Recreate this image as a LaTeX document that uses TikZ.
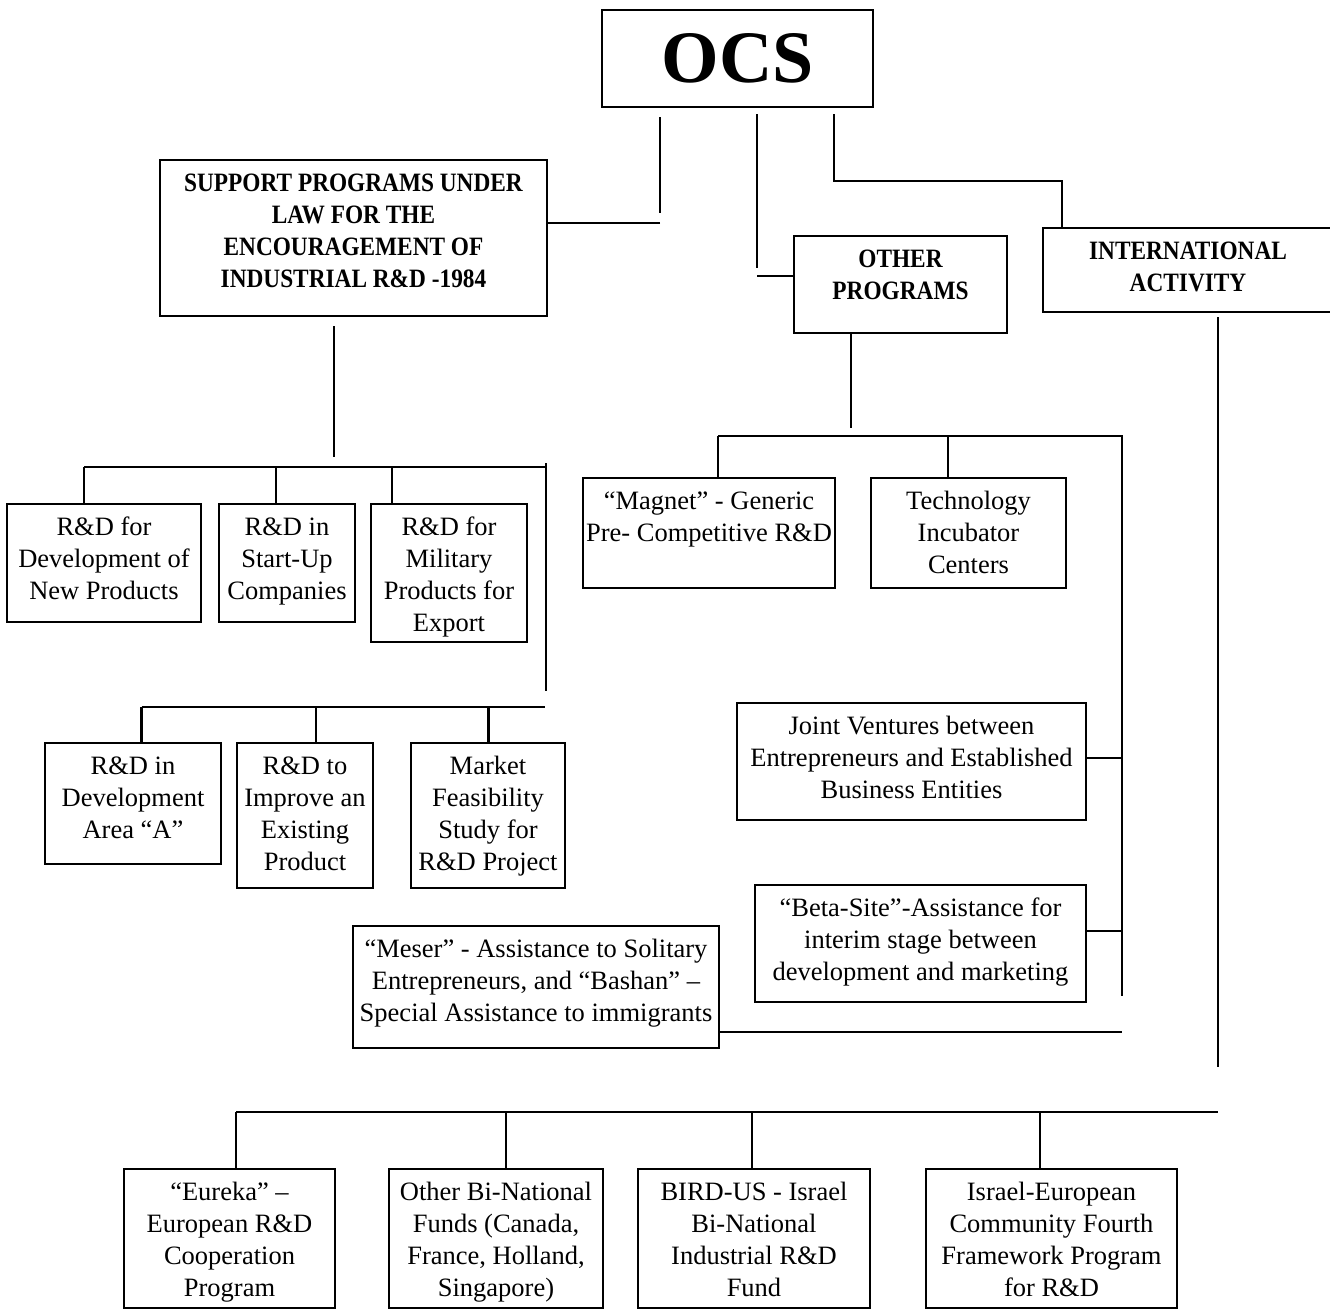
\documentclass[tikz,border=0pt]{standalone}
\usepackage{fontspec}
\setmainfont{Liberation Serif}
\newfontfamily\hdrfont[FakeStretch=0.88]{Liberation Serif}
% top-aligned text block of the given size: first baseline 31pt below the top
\newcommand{\tbk}[3]{\parbox[c][#2][t]{#1}{\centering\rule{0pt}{31pt}#3}}
\begin{document}
\begin{tikzpicture}[x=1pt,y=-1pt,
  box/.style={draw, line width=2.5pt, inner sep=0pt, font=\fontsize{26.5}{32}\selectfont},
  hbox/.style={box, font=\hdrfont\bfseries\fontsize{26.5}{32}\selectfont},
  wire/.style={line width=2.5pt},
  thinwire/.style={line width=1.8pt}]
\useasboundingbox (0,0) rectangle (1330,1309);

% ---------- boxes ----------
\node[box, minimum width=271pt, minimum height=97pt, font=\bfseries\fontsize{74}{80}\selectfont] (ocs) at (737.5,58.5) {OCS};
\node[hbox] (sup) at (353.5,238)
  {\tbk{387pt}{156pt}{SUPPORT PROGRAMS UNDER\\ LAW FOR THE\\ ENCOURAGEMENT OF\\ INDUSTRIAL R\&D -1984}};
\node[hbox] (oth) at (900.5,284.5) {\tbk{213pt}{97pt}{OTHER\\ PROGRAMS}};
\node[hbox] (intl) at (1188,270) {\tbk{290pt}{84pt}{INTERNATIONAL\\ ACTIVITY}};

\node[box] (b1) at (104,563) {\tbk{194pt}{118pt}{R\&D for\\ Development of\\ New Products}};
\node[box] (b2) at (287,563) {\tbk{136pt}{118pt}{R\&D in\\ Start-Up\\ Companies}};
\node[box] (b3) at (449,573) {\tbk{156pt}{138pt}{R\&D for\\ Military\\ Products for\\ Export}};
\node[box] (b4) at (133,803.5) {\tbk{176pt}{121pt}{R\&D in\\ Development\\ Area “A”}};
\node[box] (b5) at (305,815.5) {\tbk{136pt}{145pt}{R\&D to\\ Improve an\\ Existing\\ Product}};
\node[box] (b6) at (488,815.5) {\tbk{154pt}{145pt}{Market\\ Feasibility\\ Study for\\ R\&D Project}};

\node[box] (mag) at (709,533) {\tbk{252pt}{110pt}{“Magnet” - Generic\\ Pre- Competitive R\&D}};
\node[box] (tech) at (968.5,533) {\tbk{195pt}{110pt}{Technology\\ Incubator\\ Centers}};
\node[box] (joint) at (911.5,761.5) {\tbk{349pt}{117pt}{Joint Ventures between\\ Entrepreneurs and Established\\ Business Entities}};
\node[box] (beta) at (920.5,943.5) {\tbk{331pt}{117pt}{“Beta-Site”-Assistance for\\ interim stage between\\ development and marketing}};
\node[box] (meser) at (536,987) {\tbk{366pt}{122pt}{“Meser” - Assistance to Solitary\\ Entrepreneurs, and “Bashan” –\\ Special Assistance to immigrants}};

\node[box] (eur) at (229.5,1238.5) {\tbk{211pt}{139pt}{“Eureka” –\\ European R\&D\\ Cooperation\\ Program}};
\node[box] (obn) at (496,1238.5) {\tbk{214pt}{139pt}{Other Bi-National\\ Funds (Canada,\\ France, Holland,\\ Singapore)}};
\node[box] (bird) at (754,1238.5) {\tbk{232pt}{139pt}{BIRD-US - Israel\\ Bi-National\\ Industrial R\&D\\ Fund}};
\node[box] (isr) at (1051.5,1238.5) {\tbk{251pt}{139pt}{Israel-European\\ Community Fourth\\ Framework Program\\ for R\&D}};

% ---------- OCS connectors ----------
\coordinate (s1) at (660,117);
\coordinate (s2) at (660,213);
\coordinate (s3) at (660,223);
\draw[wire] (s1) -- (s2);
\draw[wire] (s3) -- (s3 -| sup.east);

\coordinate (o1) at (757,114);
\coordinate (o2) at (757,268);
\coordinate (o3) at (757,276);
\draw[wire] (o1) -- (o2);
\draw[wire] (o3) -- (o3 -| oth.west);

\coordinate (i1) at (834,114);
\coordinate (i2) at (1062,181);
\draw[wire] (i1) |- (i2) -- (i2 |- intl.north);

% ---------- support programs ----------
\coordinate (a0) at (334,326);
\coordinate (a1) at (334,457);
\draw[wire] (a0) -- (a1);
\coordinate (ha) at (84,467);
\coordinate (hb) at (546,467);
\draw[wire] (ha) -- (hb);
\coordinate (v1) at (546,463);
\coordinate (v2) at (546,691);
\draw[wire] (v1) -- (v2);
\coordinate (d2) at (276,467);
\coordinate (d3) at (392,467);
\draw[wire] (ha) -- (ha |- b1.north);
\draw[wire] (d2) -- (d2 |- b2.north);
\draw[wire] (d3) -- (d3 |- b3.north);

\coordinate (hc) at (141.5,707);
\coordinate (hd) at (545,707);
\draw[wire] (hc) -- (hd);
\coordinate (d5) at (316,707);
\coordinate (d6) at (488.5,707);
\draw[wire] (hc) -- (hc |- b4.north);
\draw[wire] (d5) -- (d5 |- b5.north);
\draw[wire] (d6) -- (d6 |- b6.north);

% ---------- other programs ----------
\coordinate (p0) at (851,333);
\coordinate (p1) at (851,428);
\draw[wire] (p0) -- (p1);
\coordinate (q1) at (718,436);
\coordinate (q2) at (948,436);
\coordinate (q3) at (1122,436);
\coordinate (q4) at (1122,996);
\draw[wire] (q1) -- (q3) -- (q4);
\draw[wire] (q1) -- (q1 |- mag.north);
\draw[wire] (q2) -- (q2 |- tech.north);
\coordinate (jj) at (1122,758);
\coordinate (bb) at (1122,931);
\coordinate (mm) at (1122,1032);
\draw[wire] (jj -| joint.east) -- (jj);
\draw[wire] (bb -| beta.east) -- (bb);
\draw[wire] (mm -| meser.east) -- (mm);

% ---------- international ----------
\coordinate (r0) at (1218,317);
\coordinate (r1) at (1218,1067);
\draw[wire] (r0) -- (r1);
\coordinate (h1) at (236,1112);
\coordinate (h2) at (1218,1112);
\draw[wire] (h1) -- (h2);
\coordinate (e2) at (506,1112);
\coordinate (e3) at (752,1112);
\coordinate (e4) at (1040,1112);
\draw[thinwire] (h1) -- (h1 |- eur.north);
\draw[thinwire] (e2) -- (e2 |- obn.north);
\draw[thinwire] (e3) -- (e3 |- bird.north);
\draw[thinwire] (e4) -- (e4 |- isr.north);
\end{tikzpicture}
\end{document}
